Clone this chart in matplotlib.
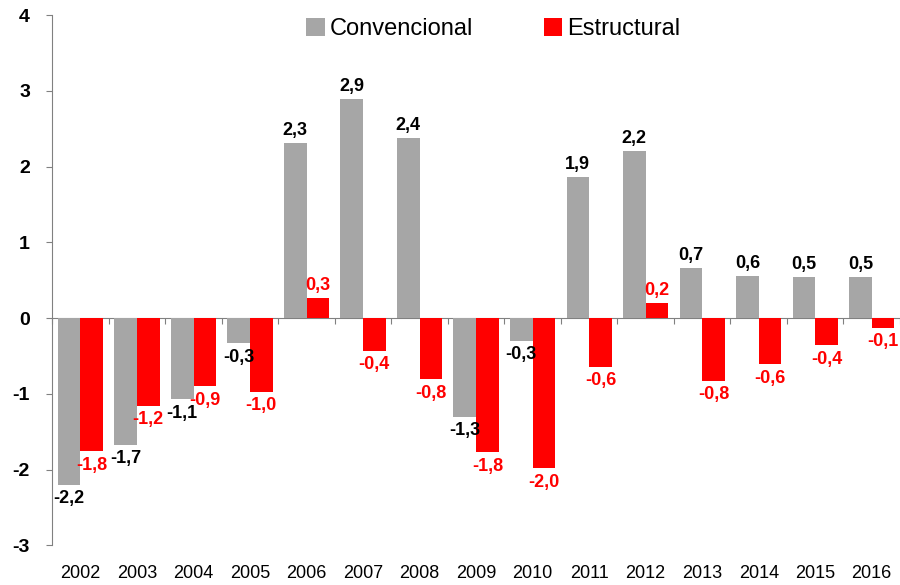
import matplotlib
matplotlib.use("Agg")
import matplotlib.pyplot as plt
import numpy as np

plt.rcParams['font.family'] = ['Liberation Sans Narrow', 'Liberation Sans', 'DejaVu Sans']
plt.rcParams['axes.unicode_minus'] = False

# data
years = ["2002", "2003", "2004", "2005", "2006", "2007", "2008", "2009",
         "2010", "2011", "2012", "2013", "2014", "2015", "2016"]
convencional = [-2.2, -1.67, -1.07, -0.33, 2.31, 2.89, 2.38, -1.3, -0.3,
                1.86, 2.21, 0.66, 0.56, 0.54, 0.54]
estructural = [-1.76, -1.16, -0.9, -0.97, 0.26, -0.43, -0.81, -1.77, -1.98,
               -0.64, 0.2, -0.83, -0.61, -0.36, -0.13]

gray = "#a6a6a6"
red = "#ff0000"

fig = plt.figure(figsize=(9, 5.85), dpi=100)
ax = fig.add_axes([0.058, 0.068, 0.942, 0.906])

x = np.arange(len(years))
w = 0.4
b1 = ax.bar(x - 0.2, convencional, w, color=gray, label="Convencional")
b2 = ax.bar(x + 0.2, estructural, w, color=red, label="Estructural")


def fmt(v):
    return ("%.1f" % v).replace(".", ",")


for bars, vals, col in [(b1, convencional, "black"), (b2, estructural, red)]:
    for r, v in zip(bars, vals):
        cx = r.get_x() + r.get_width() / 2
        if v >= 0:
            ax.annotate(fmt(v), (cx, v), xytext=(0, 3), textcoords="offset points",
                        ha="center", va="bottom", fontsize=13, fontweight="bold", color=col)
        else:
            ax.annotate(fmt(v), (cx, v), xytext=(0, -4), textcoords="offset points",
                        ha="center", va="top", fontsize=13, fontweight="bold", color=col)

ax.set_xlim(-0.5, len(years) - 0.5)
ax.set_ylim(-3, 4)
ax.set_yticks(range(-3, 5))
ax.tick_params(axis="y", labelsize=14, length=4, color="#808080", pad=12)
for t in ax.get_yticklabels():
    t.set_fontweight("bold")

ax.set_xticks(x)
ax.set_xticklabels(years, fontsize=13)
ax.tick_params(axis="x", length=0, pad=14)

for s in ["top", "right", "bottom"]:
    ax.spines[s].set_visible(False)
ax.spines["left"].set_color("#808080")

# zero line with category boundary ticks
zero = ax.secondary_xaxis(3 / 7)
zero.set_xticks(np.arange(len(years) + 1) - 0.5)
zero.tick_params(axis="x", direction="out", length=4, color="#808080", labelbottom=False)
zero.spines["bottom"].set_color("#808080")

ax.legend(loc="upper center", bbox_to_anchor=(0.52, 1.035), ncol=2, frameon=False,
          fontsize=17, handlelength=0.8, handleheight=0.8, handletextpad=0.2,
          columnspacing=3)

fig.savefig("out.png", dpi=100)
